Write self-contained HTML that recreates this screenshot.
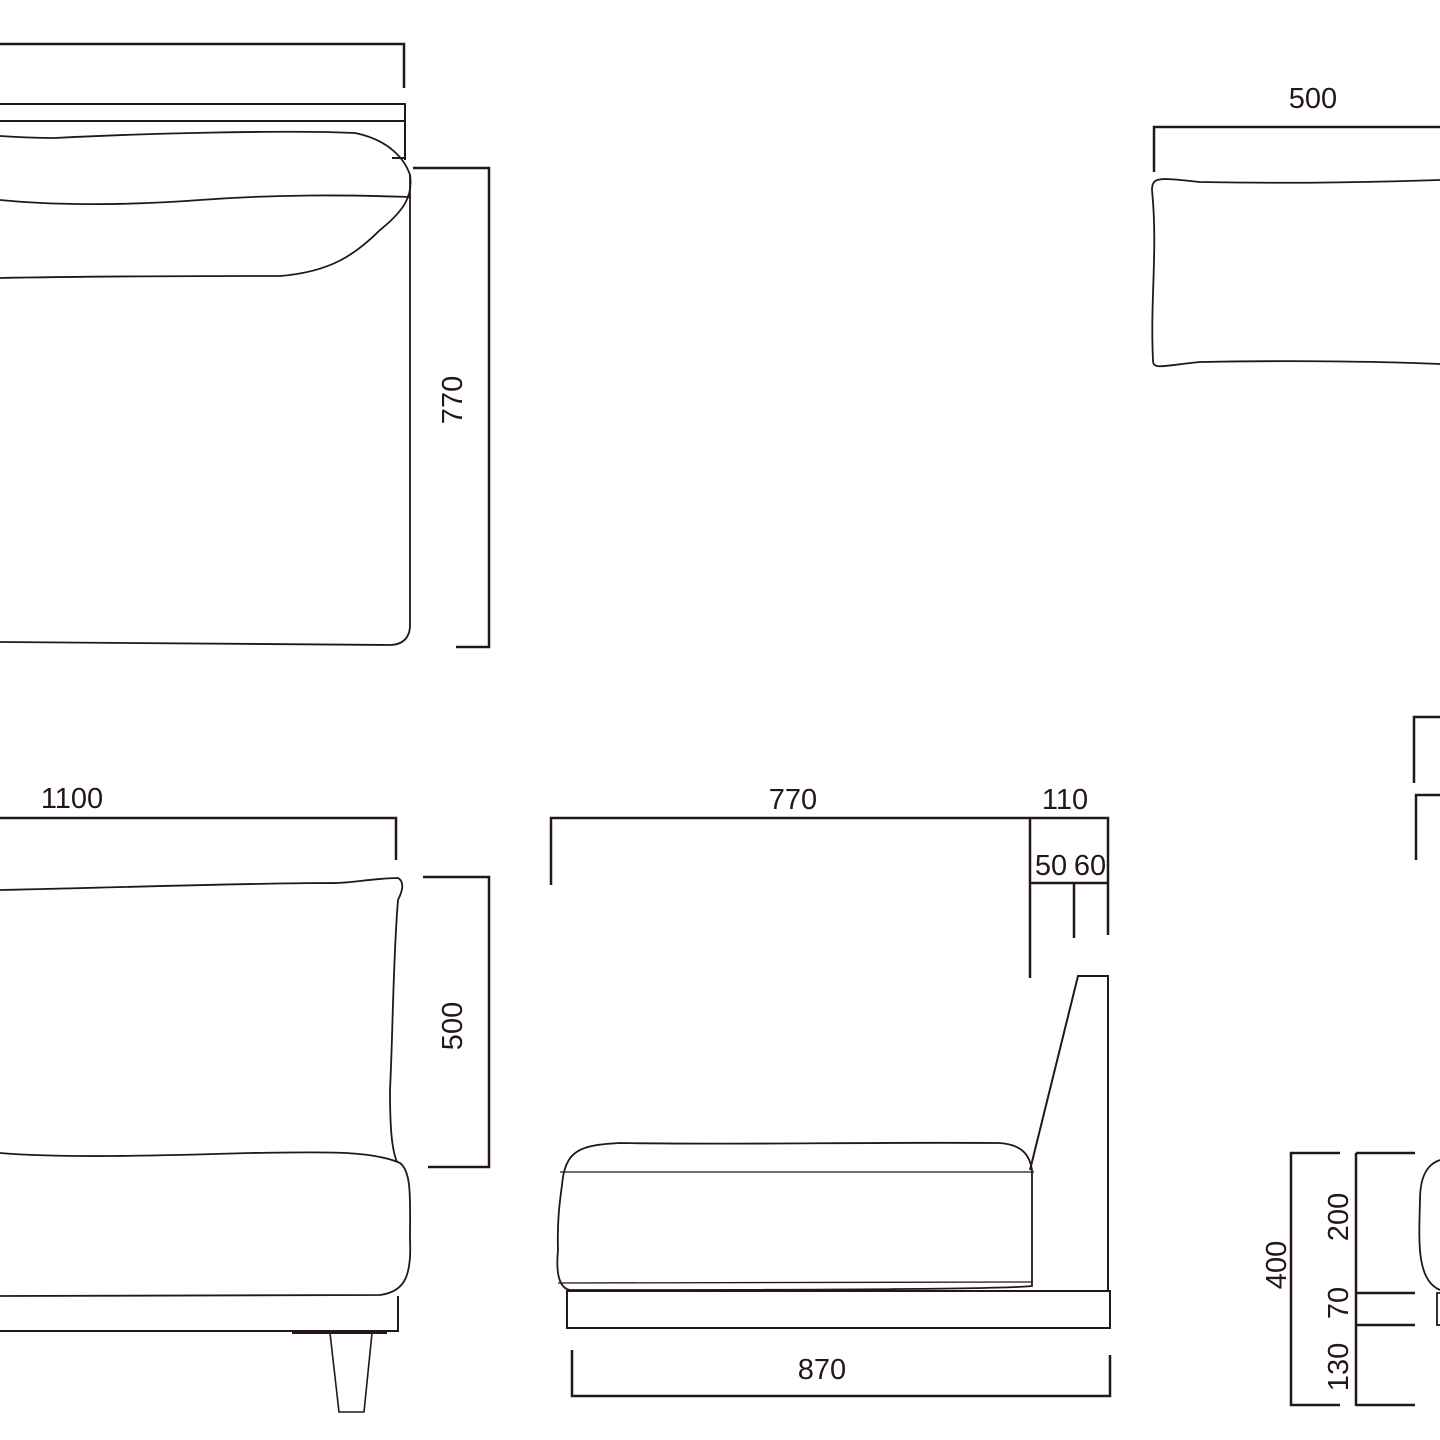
<!DOCTYPE html>
<html><head><meta charset="utf-8"><style>
html,body{margin:0;padding:0;background:#fff;width:1440px;height:1440px;overflow:hidden}
svg text{font-family:"Liberation Sans",sans-serif;font-size:29px;fill:#231815}
</style></head><body>
<svg width="1440" height="1440" viewBox="0 0 1440 1440" xmlns="http://www.w3.org/2000/svg">
<g fill="none" stroke="#231815" stroke-width="2">
<!-- top-left plan view -->
<polyline points="0,44 404,44 404,88" stroke-width="2.5"/>
<polyline points="0,104 405,104 405,160"/>
<line x1="0" y1="121" x2="405" y2="121"/>
<line x1="392" y1="158" x2="405" y2="158"/>
<path d="M0,136 C30,138 45,138 55,138 C150,133 290,130 355,133 C390,140 405,160 410,175 C413,195 405,210 380,230 C355,255 330,272 280,276 C200,276 100,276 0,278" stroke-width="1.8"/>
<path d="M0,200 C50,205 120,206 200,200 C280,194 350,195 410,197" stroke-width="1.8"/>
<path d="M410,175 L410,625 C410,640 400,645 390,645 L0,642" stroke-width="1.8"/>
<polyline points="413,168 489,168 489,647 456,647" stroke-width="2.5"/>
<!-- pillow top right -->
<polyline points="1154,172 1154,127 1440,127" stroke-width="2.5"/>
<path d="M1440,180 C1380,182 1300,184 1200,182 C1160,178 1152,176 1152,190 C1158,250 1150,300 1153,360 C1153,370 1160,366 1200,362 C1300,360 1400,362 1440,364" stroke-width="1.8"/>
<!-- top-right brackets -->
<polyline points="1440,717 1414,717 1414,783" stroke-width="2.5"/>
<polyline points="1440,795 1416,795 1416,860" stroke-width="2.5"/>
<!-- bottom-left front view -->
<polyline points="0,818 396,818 396,860" stroke-width="2.5"/>
<polyline points="423,877 489,877 489,1167 428,1167" stroke-width="2.5"/>
<path d="M0,890 C100,888 250,883 330,883 C345,884 375,878 398,878 C405,882 402,892 398,900 C393,960 393,1030 390,1090 C390,1130 392,1150 397,1162" stroke-width="1.8"/>
<path d="M0,1153 C60,1158 150,1156 250,1153 C320,1152 370,1150 400,1163 C412,1172 410,1200 410,1240 C412,1280 402,1292 380,1295 L0,1296" stroke-width="1.8"/>
<polyline points="0,1331 398,1331 398,1296"/>
<rect x="292" y="1331" width="95" height="3" fill="#231815" stroke="none"/>
<polygon points="330,1333 372,1333 364,1412 339,1412" stroke-width="1.6"/>
<!-- middle side view -->
<polyline points="551,885 551,818 1108,818 1108,935" stroke-width="2.5"/>
<line x1="1030" y1="818" x2="1030" y2="978" stroke-width="2.5"/>
<line x1="1030" y1="883" x2="1108" y2="883" stroke-width="2.5"/>
<line x1="1074" y1="883" x2="1074" y2="938" stroke-width="2.5"/>
<polyline points="1030,1170 1078,976 1108,976 1108,1291"/>
<path d="M562,1185 C565,1150 580,1145 620,1143 C750,1145 850,1142 1000,1143 C1025,1145 1030,1158 1032,1170 L1032,1286 C1000,1290 700,1290 570,1290 C558,1288 556,1270 558,1250 C557,1220 560,1200 562,1185 Z" stroke-width="1.8"/>
<line x1="560" y1="1172" x2="1034" y2="1172" stroke-width="1.3"/>
<line x1="558" y1="1283" x2="1032" y2="1282" stroke-width="1.3"/>
<rect x="567" y="1291" width="543" height="37"/>
<polyline points="572,1350 572,1396 1110,1396 1110,1355" stroke-width="2.5"/>
<!-- bottom right dims -->
<polyline points="1340,1153 1291,1153 1291,1405 1340,1405" stroke-width="2.5"/>
<line x1="1356" y1="1153" x2="1356" y2="1406" stroke-width="2.5"/>
<line x1="1356" y1="1153" x2="1415" y2="1153" stroke-width="2.5"/>
<line x1="1356" y1="1293" x2="1415" y2="1293" stroke-width="2.5"/>
<line x1="1356" y1="1325" x2="1415" y2="1325" stroke-width="2.5"/>
<line x1="1356" y1="1405" x2="1415" y2="1405" stroke-width="2.5"/>
<path d="M1440,1160 C1425,1165 1420,1180 1420,1200 C1419,1240 1416,1280 1440,1290" stroke-width="1.8"/>
<polyline points="1440,1293 1437,1293 1437,1325 1440,1325" stroke-width="1.8"/>
</g>
<text x="72" y="808" text-anchor="middle">1100</text>
<text x="1313" y="108" text-anchor="middle">500</text>
<text x="793" y="809" text-anchor="middle">770</text>
<text x="1065" y="809" text-anchor="middle">110</text>
<text x="1051" y="875" text-anchor="middle">50</text>
<text x="1090" y="875" text-anchor="middle">60</text>
<text x="822" y="1379" text-anchor="middle">870</text>
<text transform="translate(462,400) rotate(-90)" text-anchor="middle">770</text>
<text transform="translate(462,1026) rotate(-90)" text-anchor="middle">500</text>
<text transform="translate(1286,1265) rotate(-90)" text-anchor="middle">400</text>
<text transform="translate(1348,1217) rotate(-90)" text-anchor="middle">200</text>
<text transform="translate(1348,1303) rotate(-90)" text-anchor="middle">70</text>
<text transform="translate(1348,1367) rotate(-90)" text-anchor="middle">130</text>
</svg>
</body></html>
